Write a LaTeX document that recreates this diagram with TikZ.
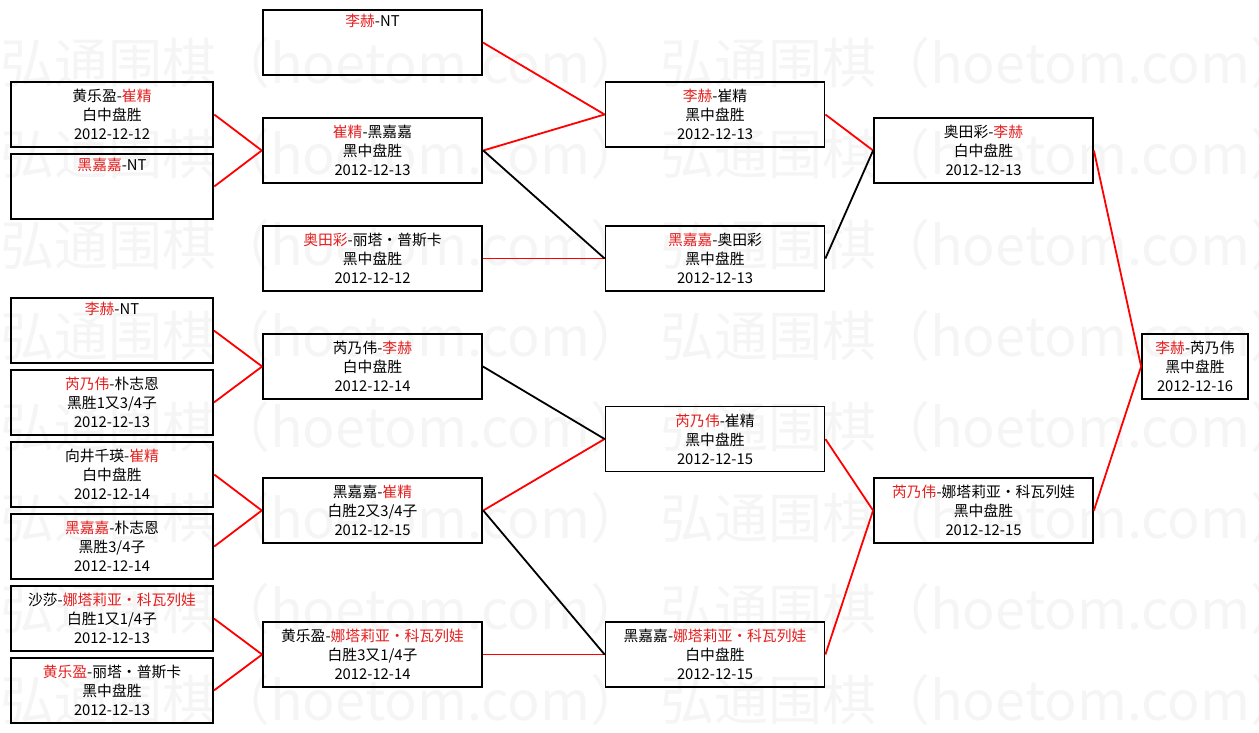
\documentclass[tikz,border=0pt]{standalone}
\usepackage{fontspec}
\setmainfont{Noto Sans CJK SC}
\definecolor{winred}{RGB}{228,30,30}
\newcommand{\wn}[1]{\textcolor{winred}{#1}}
\begin{document}
\begin{tikzpicture}[x=1pt,y=-1pt,
   game/.style={draw,line width=1.8pt,minimum width=219pt,minimum height=65pt,
     inner sep=0pt,align=center,font=\fontsize{14.8}{19}\selectfont},
   first/.style={minimum width=202pt},
   bold/.style={line width=2.5pt},
   win/.style={red,line width=1.8pt},
   lose/.style={black,line width=1.8pt},
   wmark/.style={anchor=west,inner sep=0pt,text=black!4,font=\fontsize{54}{54}\selectfont}]
   \useasboundingbox (0,0) rectangle (1259,733);

   % 水印
   \begin{scope}
   \clip (0,0) rectangle (1259,733);
   \foreach \y in {63,154,...,700}
     \foreach \x in {0,660}
       \node[wmark] (w-\y-\x) at (\x,\y) {弘通围棋（hoetom.com）};
   \end{scope}

   % 第一轮
   \node[game,first,bold] (a1) at (112,114.5) {黄乐盈-\wn{崔精}\\白中盘胜\\2012-12-12};
   \node[game,first,bold] (a2) at (112,186.5) {\wn{黑嘉嘉}-NT\\\strut\\\strut};
   \node[game,first] (a3) at (112,330.5) {\wn{李赫}-NT\\\strut\\\strut};
   \node[game,first] (a4) at (112,402.5) {\wn{芮乃伟}-朴志恩\\黑胜1又3/4子\\2012-12-13};
   \node[game,first,bold] (a5) at (112,474.5) {向井千瑛-\wn{崔精}\\白中盘胜\\2012-12-14};
   \node[game,first,bold] (a6) at (112,546.5) {\wn{黑嘉嘉}-朴志恩\\黑胜3/4子\\2012-12-14};
   \node[game,first] (a7) at (112,618.5) {沙莎-\wn{娜塔莉亚・科瓦列娃}\\白胜1又1/4子\\2012-12-13};
   \node[game,first] (a8) at (112,690.5) {\wn{黄乐盈}-丽塔・普斯卡\\黑中盘胜\\2012-12-13};

   % 第二轮
   \node[game] (b1) at (372.5,42.5) {\wn{李赫}-NT\\\strut\\\strut};
   \node[game,bold] (b2) at (372.5,150.5) {\wn{崔精}-黑嘉嘉\\黑中盘胜\\2012-12-13};
   \node[game] (b3) at (372.5,258.5) {\wn{奥田彩}-丽塔・普斯卡\\黑中盘胜\\2012-12-12};
   \node[game] (b4) at (372.5,366.5) {芮乃伟-\wn{李赫}\\白中盘胜\\2012-12-14};
   \node[game,bold] (b5) at (372.5,510.5) {黑嘉嘉-\wn{崔精}\\白胜2又3/4子\\2012-12-15};
   \node[game] (b6) at (372.5,654.5) {黄乐盈-\wn{娜塔莉亚・科瓦列娃}\\白胜3又1/4子\\2012-12-14};

   % 第三轮
   \node[game] (c1) at (715,114.5) {\wn{李赫}-崔精\\黑中盘胜\\2012-12-13};
   \node[game] (c2) at (715,258.5) {\wn{黑嘉嘉}-奥田彩\\黑中盘胜\\2012-12-13};
   \node[game] (c3) at (715,439) {\wn{芮乃伟}-崔精\\黑中盘胜\\2012-12-15};
   \node[game] (c4) at (715,654.5) {黑嘉嘉-\wn{娜塔莉亚・科瓦列娃}\\白中盘胜\\2012-12-15};

   % 第四轮
   \node[game] (d1) at (983.5,150.5) {奥田彩-\wn{李赫}\\白中盘胜\\2012-12-13};
   \node[game] (d2) at (983.5,510.5) {\wn{芮乃伟}-娜塔莉亚・科瓦列娃\\黑中盘胜\\2012-12-15};

   % 决赛
   \node[game,minimum width=106pt] (f) at (1195,366.5) {\wn{李赫}-芮乃伟\\黑中盘胜\\2012-12-16};

   % 连线
   \foreach \u/\v in {a1/b2,a2/b2,a3/b4,a4/b4,a5/b5,a6/b5,a7/b6,a8/b6,
                      b1/c1,b2/c1,b3/c2,b5/c3,b6/c4,c1/d1,c3/d2,c4/d2,d1/f,d2/f}
     \draw[win] (\u.east) -- (\v.west);
   \foreach \u/\v in {b2/c2,b4/c3,b5/c4,c2/d1}
     \draw[lose] (\u.east) -- (\v.west);

\end{tikzpicture}
\end{document}
